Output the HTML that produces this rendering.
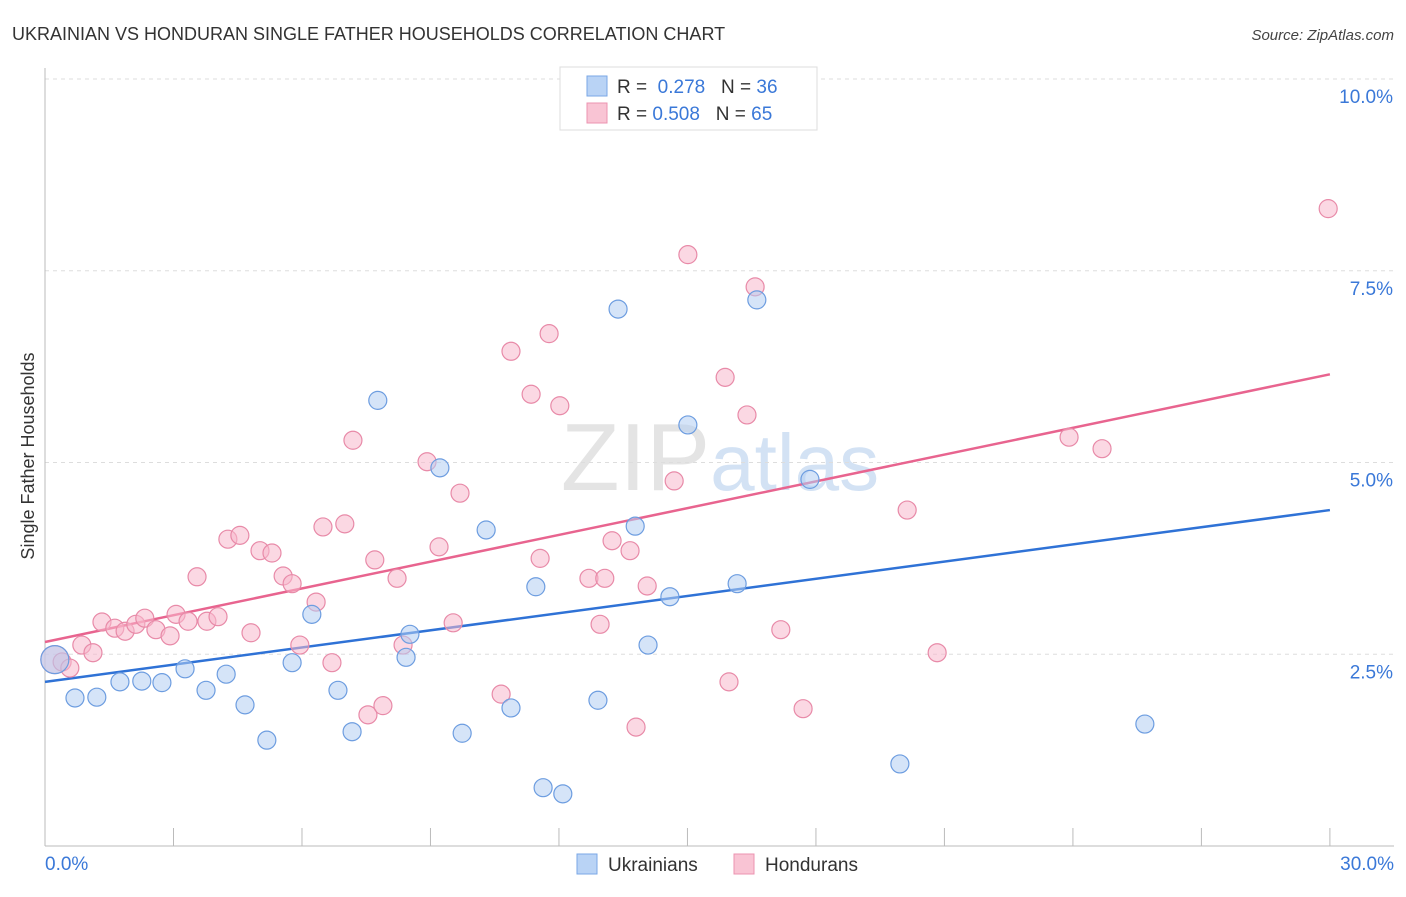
<!DOCTYPE html>
<html><head><meta charset="utf-8"><style>
body{margin:0;background:#fff;font-family:"Liberation Sans",sans-serif;}
svg text{font-family:"Liberation Sans",sans-serif;}
</style></head><body>
<svg id="chart" width="1406" height="892">
<text x="12" y="40" font-size="18" fill="#333">UKRAINIAN VS HONDURAN SINGLE FATHER HOUSEHOLDS CORRELATION CHART</text>
<text x="1394" y="40" font-size="15" fill="#444" font-style="italic" text-anchor="end">Source: ZipAtlas.com</text>
<text x="720" y="490" font-size="96" fill="#e4e4e4" text-anchor="middle" font-family="Liberation Serif">ZIP<tspan fill="#d3e2f4" font-family="Liberation Sans" font-size="80">atlas</tspan></text>
<g id="grid"></g>
<g id="axes"></g>
<g id="lines"></g>
<g id="pts"></g>
<text transform="translate(34,456) rotate(-90)" font-size="18" fill="#333" text-anchor="middle">Single Father Households</text>
<g>
<rect x="560" y="67" width="257" height="63" fill="#fff" stroke="#ddd"/>
<rect x="587" y="76" width="20" height="20" fill="#b9d3f5" stroke="#7aa7e6"/>
<text x="617" y="93" font-size="19" fill="#333">R = <tspan fill="#3a78d8">&#160;0.278</tspan>&#160;&#160;&#160;N = <tspan fill="#3a78d8">36</tspan></text>
<rect x="587" y="103" width="20" height="20" fill="#f9c4d4" stroke="#ec93b0"/>
<text x="617" y="120" font-size="19" fill="#333">R = <tspan fill="#3a78d8">0.508</tspan>&#160;&#160;&#160;N = <tspan fill="#3a78d8">65</tspan></text>
</g>
<g>
<rect x="577" y="854" width="20" height="20" fill="#b9d3f5" stroke="#7aa7e6"/>
<text x="608" y="871" font-size="19" fill="#333">Ukrainians</text>
<rect x="734" y="854" width="20" height="20" fill="#f9c4d4" stroke="#ec93b0"/>
<text x="765" y="871" font-size="19" fill="#333">Hondurans</text>
</g>
</svg>
<script>
const xTicks=[0,3,6,9,12,15,18,21,24,27,30];
const yTicks=[2.5,5.0,7.5,10.0];
const ukrX=[0.23,0.70,1.21,1.75,2.26,2.73,3.27,3.76,4.23,4.67,5.18,5.77,6.23,6.84,7.17,7.77,8.43,8.52,9.22,9.74,10.30,10.88,11.46,11.63,12.09,12.91,13.38,13.78,14.08,14.59,15.01,16.16,16.62,17.86,19.96,25.68];
const ukrY=[2.43,1.93,1.94,2.14,2.15,2.13,2.31,2.03,2.24,1.84,1.38,2.39,3.02,2.03,1.49,5.81,2.46,2.76,4.93,1.47,4.12,1.80,3.38,0.76,0.68,1.90,7.00,4.17,2.62,3.25,5.49,3.42,7.12,4.78,1.07,1.59];
const honX=[0.23,0.40,0.58,0.86,1.12,1.33,1.63,1.87,2.12,2.33,2.59,2.92,3.06,3.34,3.55,3.78,4.04,4.27,4.55,4.81,5.02,5.30,5.56,5.77,5.95,6.33,6.49,6.70,7.00,7.19,7.54,7.70,7.89,8.22,8.36,8.92,9.20,9.53,9.69,10.65,10.88,11.35,11.56,11.77,12.02,12.70,12.96,13.07,13.24,13.66,13.80,14.06,14.69,15.01,15.88,15.97,16.39,16.58,17.18,17.70,20.13,20.83,23.91,24.68,29.96];
const honY=[2.43,2.40,2.32,2.62,2.52,2.92,2.84,2.80,2.89,2.97,2.82,2.74,3.02,2.93,3.51,2.93,2.99,4.00,4.05,2.78,3.85,3.82,3.52,3.42,2.62,3.18,4.16,2.39,4.20,5.29,1.71,3.73,1.83,3.49,2.62,5.01,3.90,2.91,4.60,1.98,6.45,5.89,3.75,6.68,5.74,3.49,2.89,3.49,3.98,3.85,1.55,3.39,4.76,7.71,6.11,2.14,5.62,7.29,2.82,1.79,4.38,2.52,5.33,5.18,8.31];
const ukrTrend=[2.14,4.38];
const honTrend=[2.66,6.15];
const NS="http://www.w3.org/2000/svg";
const sx=v=>45+v*42.83, sy=v=>846-v*76.7;
function mk(tag,attrs,parent){const e=document.createElementNS(NS,tag);for(const k in attrs)e.setAttribute(k,attrs[k]);document.getElementById(parent).appendChild(e);return e;}
yTicks.forEach(t=>{
  const l=mk('line',{x1:45,x2:1394,y1:sy(t),y2:sy(t),stroke:'#ddd','stroke-dasharray':'4,4'},'grid');
  
  
  const tx=mk('text',{x:1393,y:sy(t)+24,'font-size':19,fill:'#3a78d8','text-anchor':'end'},'grid');
  tx.textContent=t.toFixed(1)+'%';
  
  
});
const ax=mk('line',{x1:45,x2:45,y1:68,y2:846,stroke:'#bbb'},'axes');


const bx=mk('line',{x1:45,x2:1394,y1:846,y2:846,stroke:'#bbb'},'axes');


xTicks.forEach(t=>{
  const l=mk('line',{x1:sx(t),x2:sx(t),y1:828,y2:846,stroke:'#bbb'},'axes');
  
  
});
[[0,'start'],[30,'end']].forEach(([t,a])=>{
  const tx=mk('text',{x:t===0?45:1394,y:870,'font-size':19,fill:'#3a78d8','text-anchor':a},'axes');
  tx.textContent=t.toFixed(1)+'%';
  
  
});
function pts(X,Y,fill,stroke,name){
  X.forEach((x,i)=>{
    const c=mk('circle',{cx:sx(x),cy:sy(Y[i]),r:i===0?14:9,fill:fill,'fill-opacity':0.55,stroke:stroke,'stroke-width':1.2},'pts');
    
    
  });
}
pts(honX,honY,'#f7b8cc','#e88aa8','honduran-point');
pts(ukrX,ukrY,'#b3cdf2','#6d9de0','ukrainian-point');
const l1=mk('line',{x1:sx(0),y1:sy(ukrTrend[0]),x2:sx(30),y2:sy(ukrTrend[1]),stroke:'#2f72d6','stroke-width':2.5},'lines');


const l2=mk('line',{x1:sx(0),y1:sy(honTrend[0]),x2:sx(30),y2:sy(honTrend[1]),stroke:'#e8648f','stroke-width':2.5},'lines');


</script>
</body></html>
